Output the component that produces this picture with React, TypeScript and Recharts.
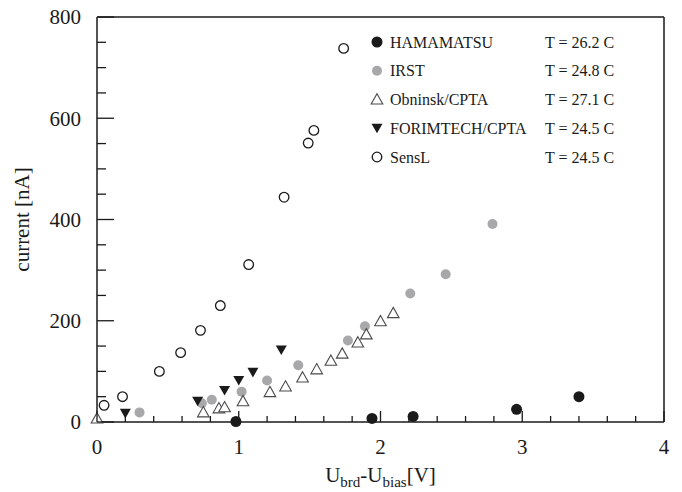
import {
  ScatterChart,
  Scatter,
  XAxis,
  YAxis,
  ReferenceLine,
} from "recharts";

const FONT = '"Liberation Serif", "Times New Roman", serif';
const INK = "#1a1a1a";
const GREY = "#a8a8ab";

// U_brd - U_bias [V] and current [nA] per device
const HAMAMATSU_V = [0.98, 1.94, 2.23, 2.96, 3.4];
const HAMAMATSU_I = [1, 7, 11, 25, 50];

const IRST_V = [0.3, 0.74, 0.81, 1.02, 1.2, 1.42, 1.77, 1.89, 2.21, 2.46, 2.79];
const IRST_I = [19, 37, 44, 60, 82, 112, 161, 189, 254, 292, 391];

const OBNINSK_V = [0, 0.75, 0.86, 0.9, 1.03, 1.22, 1.33, 1.45, 1.55, 1.65, 1.73, 1.84, 1.9, 2.0, 2.09];
const OBNINSK_I = [7, 19, 27, 29, 41, 59, 70, 88, 104, 121, 135, 157, 173, 199, 215];

const FORIMTECH_V = [0.2, 0.71, 0.9, 1.0, 1.1, 1.3];
const FORIMTECH_I = [17, 41, 62, 82, 98, 142];

const SENSL_V = [0.05, 0.18, 0.44, 0.59, 0.73, 0.87, 1.07, 1.32, 1.49, 1.53, 1.74];
const SENSL_I = [33, 50, 100, 137, 181, 230, 311, 444, 551, 576, 738];

const SERIES_NAMES = ["HAMAMATSU", "IRST", "Obninsk/CPTA", "FORIMTECH/CPTA", "SensL"];
const TEMPERATURES = ["T = 26.2 C", "T = 24.8 C", "T = 27.1 C", "T = 24.5 C", "T = 24.5 C"];

const X_TICKS = [0, 0.2, 0.4, 0.6, 0.8, 1, 1.2, 1.4, 1.6, 1.8, 2, 2.2, 2.4, 2.6, 2.8, 3, 3.2, 3.4, 3.6, 3.8, 4];
const Y_TICKS = [0, 50, 100, 150, 200, 250, 300, 350, 400, 450, 500, 550, 600, 650, 700, 750, 800];

const zip = (xs: number[], ys: number[]) => xs.map((v, i) => ({ v, i: ys[i] }));

type Marker = (cx: number, cy: number, key?: string) => JSX.Element;

const blackDot: Marker = (cx, cy, key) => <circle key={key} cx={cx} cy={cy} r={5.5} fill={INK} />;
const greyDot: Marker = (cx, cy, key) => <circle key={key} cx={cx} cy={cy} r={5} fill={GREY} />;
const openCircle: Marker = (cx, cy, key) => (
  <circle key={key} cx={cx} cy={cy} r={4.8} fill="#fff" stroke={INK} strokeWidth={1.3} />
);
const openTriangle: Marker = (cx, cy, key) => (
  <path
    key={key}
    d={`M${cx},${cy - 5.8} L${cx + 5.8},${cy + 4.5} L${cx - 5.8},${cy + 4.5} Z`}
    fill="#fff"
    stroke="#4a4a4a"
    strokeWidth={1.1}
  />
);
const downTriangle: Marker = (cx, cy, key) => (
  <path
    key={key}
    d={`M${cx - 5.5},${cy - 4.6} L${cx + 5.5},${cy - 4.6} L${cx},${cy + 5} Z`}
    fill={INK}
  />
);

const SERIES = [
  { name: SERIES_NAMES[0], data: zip(HAMAMATSU_V, HAMAMATSU_I), marker: blackDot },
  { name: SERIES_NAMES[1], data: zip(IRST_V, IRST_I), marker: greyDot },
  { name: SERIES_NAMES[2], data: zip(OBNINSK_V, OBNINSK_I), marker: openTriangle },
  { name: SERIES_NAMES[3], data: zip(FORIMTECH_V, FORIMTECH_I), marker: downTriangle },
  { name: SERIES_NAMES[4], data: zip(SENSL_V, SENSL_I), marker: openCircle },
];

// ticks point into the plot, long ones carry a label
const YTick = (props: any) => {
  const { x, y, payload } = props;
  const v = payload.value as number;
  const major = v % 200 === 0;
  return (
    <g>
      <line x1={x} x2={x + (major ? 17 : 9)} y1={y} y2={y} stroke={INK} strokeWidth={1.3} />
      {major && (
        <text x={x - 16} y={y} dy="0.35em" textAnchor="end" fontSize={21} fontFamily={FONT} fill={INK}>
          {v}
        </text>
      )}
    </g>
  );
};

const XTick = (props: any) => {
  const { x, y, payload } = props;
  const v = payload.value as number;
  const major = Number.isInteger(v);
  return (
    <g>
      <line x1={x} x2={x} y1={y} y2={y - (major ? 11 : 6)} stroke={INK} strokeWidth={1.3} />
      {major && (
        <text x={x} y={y + 32} textAnchor="middle" fontSize={21} fontFamily={FONT} fill={INK}>
          {v}
        </text>
      )}
    </g>
  );
};

const XTitle = (props: any) => {
  const { x, y, width } = props.viewBox;
  return (
    <text x={x + width / 2} y={y + 60} textAnchor="middle" fontSize={21} fontFamily={FONT} fill={INK}>
      U
      <tspan fontSize={15} dy={5}>brd</tspan>
      <tspan dy={-5}>-U</tspan>
      <tspan fontSize={15} dy={5}>bias</tspan>
      <tspan dy={-5}>[V]</tspan>
    </text>
  );
};

const YTitle = (props: any) => {
  const { x, y, height } = props.viewBox;
  const cx = x + 22;
  const cy = y + height / 2;
  return (
    <text
      x={cx}
      y={cy}
      transform={`rotate(-90 ${cx} ${cy})`}
      textAnchor="middle"
      dominantBaseline="central"
      fontSize={21}
      fontFamily={FONT}
      fill={INK}
    >
      current [nA]
    </text>
  );
};

const LegendBox = () => (
  <svg
    width={682}
    height={492}
    style={{ position: "absolute", left: 0, top: 0, pointerEvents: "none" }}
  >
    {SERIES.map((s, k) => {
      const cy = 42 + k * 28.75;
      return (
        <g key={s.name}>
          {s.marker(377, cy)}
          <text x={390} y={cy} dy="0.35em" fontSize={16} fontFamily={FONT} fill={INK}>
            {s.name}
          </text>
          <text x={545} y={cy} dy="0.35em" fontSize={16} fontFamily={FONT} fill={INK}>
            {TEMPERATURES[k]}
          </text>
        </g>
      );
    })}
  </svg>
);

export default function App() {
  return (
    <div style={{ position: "absolute", left: 0, top: 0, width: 682, height: 492, background: "#fff" }}>
      <ScatterChart width={682} height={492} margin={{ top: 17, right: 18, bottom: 0, left: 0 }}>
        <XAxis
          type="number"
          dataKey="v"
          domain={[0, 4]}
          ticks={X_TICKS}
          interval={0}
          height={70}
          tickSize={0}
          tickMargin={0}
          tickLine={false}
          tick={<XTick />}
          axisLine={{ stroke: INK, strokeWidth: 1.5 }}
          label={{ content: XTitle }}
        />
        <YAxis
          type="number"
          dataKey="i"
          domain={[0, 800]}
          ticks={Y_TICKS}
          interval={0}
          width={97}
          tickSize={0}
          tickMargin={0}
          tickLine={false}
          tick={<YTick />}
          axisLine={{ stroke: INK, strokeWidth: 1.5 }}
          label={{ content: YTitle }}
        />
        <ReferenceLine y={800} stroke={INK} strokeWidth={1.5} />
        <ReferenceLine x={4} stroke={INK} strokeWidth={1.5} />
        {SERIES.map((s) => (
          <Scatter
            key={s.name}
            name={s.name}
            data={s.data}
            isAnimationActive={false}
            shape={(p: any) => s.marker(p.cx, p.cy)}
          />
        ))}
      </ScatterChart>
      <LegendBox />
    </div>
  );
}
